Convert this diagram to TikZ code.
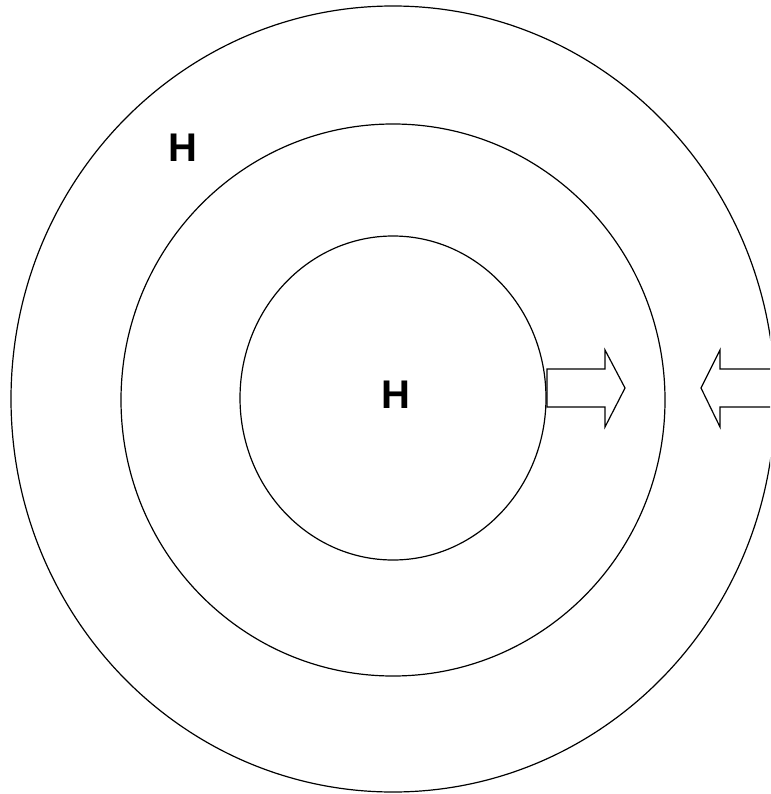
\documentclass[tikz,border=0pt]{standalone}
\usepackage{fontspec}
\setmainfont{Liberation Sans}
\usepackage{tikz}
\usetikzlibrary{calc}

\begin{document}
\begin{tikzpicture}[x=1pt, y=-1pt, line width=1.2pt,
    ring/.style={draw=black},
    bigarrow/.style={draw=black, fill=white, line join=miter},
    letter/.style={font=\fontsize{40}{46}\selectfont\bfseries, inner sep=0pt}]

    % khung hình
    \useasboundingbox (0,0) rectangle (770,794);
    \clip (0,0) rectangle (770,794);

    % tâm chung của các vòng
    \coordinate (O) at (393,399);

    % ba vòng ellipse
    \draw[ring] (O) ellipse [x radius=382, y radius=393];
    \draw[ring] (393,400) ellipse [x radius=272, y radius=276];
    \draw[ring] (393,398) ellipse [x radius=153, y radius=162];

    % mũi tên hướng ra
    \draw[bigarrow] (547,369) -- (605,369) -- (605,350) -- (625,388)
        -- (605,427) -- (605,407) -- (547,407) -- cycle;

    % mũi tên hướng vào
    \draw[bigarrow] (775,369) -- (720,369) -- (720,350) -- (701,388)
        -- (720,427) -- (720,407) -- (775,407);

    % nhãn
    \node[letter] (hout) at (183,148) {H};
    \node[letter] (hin) at (396,395) {H};

\end{tikzpicture}
\end{document}
